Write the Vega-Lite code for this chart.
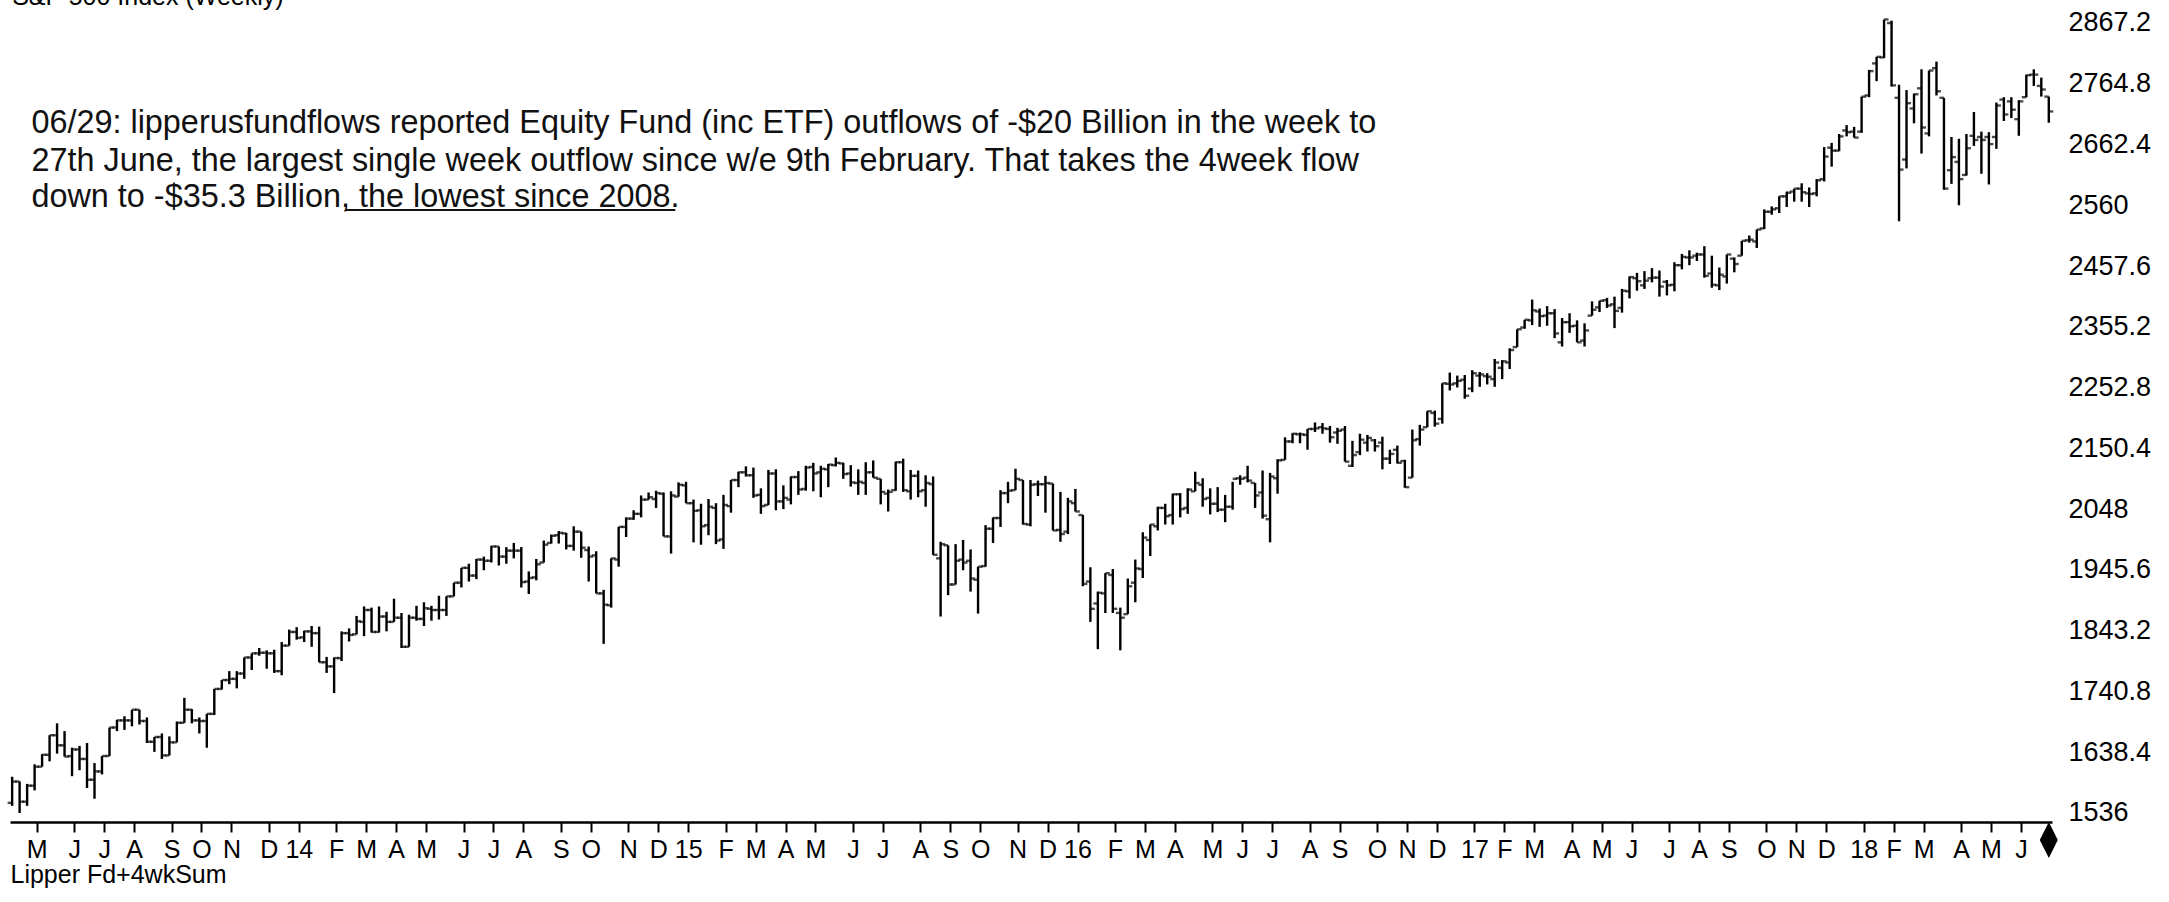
{
"$schema": "https://vega.github.io/schema/vega-lite/v6.json",
"autosize": "none",
"width": 2042,
"height": 822,
"padding": {"left": 10, "top": 0, "right": 117, "bottom": 80},
"background": "white",
"config": {
"view": {"stroke": null},
"axisX": {"labelOverlap": false, "labelFlush": false, "labelBound": false, "ticks": true, "tickSize": 10, "tickWidth": 2, "tickColor": "black", "domainColor": "black", "domainWidth": 2.5, "grid": false},
"axisY": {"labelOverlap": false, "labelFlush": false, "labelBound": false, "grid": false}
},
"datasets": {
"bars": [
{"d":"2013-04-12","o":1553,"h":1597,"l":1548,"c":1589},
{"d":"2013-04-19","o":1589,"h":1589,"l":1536,"c":1555},
{"d":"2013-04-26","o":1555,"h":1585,"l":1548,"c":1582},
{"d":"2013-05-03","o":1582,"h":1618,"l":1574,"c":1614},
{"d":"2013-05-10","o":1614,"h":1635,"l":1614,"c":1634},
{"d":"2013-05-17","o":1634,"h":1667,"l":1623,"c":1667},
{"d":"2013-05-24","o":1667,"h":1687,"l":1636,"c":1650},
{"d":"2013-05-31","o":1650,"h":1674,"l":1631,"c":1631},
{"d":"2013-06-07","o":1632,"h":1646,"l":1598,"c":1643},
{"d":"2013-06-14","o":1643,"h":1649,"l":1608,"c":1627},
{"d":"2013-06-21","o":1627,"h":1654,"l":1578,"c":1592},
{"d":"2013-06-28","o":1592,"h":1620,"l":1560,"c":1606},
{"d":"2013-07-05","o":1606,"h":1632,"l":1601,"c":1632},
{"d":"2013-07-12","o":1632,"h":1680,"l":1632,"c":1680},
{"d":"2013-07-19","o":1680,"h":1693,"l":1674,"c":1692},
{"d":"2013-07-26","o":1692,"h":1699,"l":1676,"c":1692},
{"d":"2013-08-02","o":1692,"h":1710,"l":1682,"c":1710},
{"d":"2013-08-09","o":1710,"h":1710,"l":1685,"c":1691},
{"d":"2013-08-16","o":1691,"h":1697,"l":1654,"c":1656},
{"d":"2013-08-23","o":1656,"h":1664,"l":1639,"c":1664},
{"d":"2013-08-30","o":1664,"h":1670,"l":1627,"c":1633},
{"d":"2013-09-06","o":1633,"h":1665,"l":1633,"c":1655},
{"d":"2013-09-13","o":1655,"h":1690,"l":1655,"c":1688},
{"d":"2013-09-20","o":1688,"h":1730,"l":1688,"c":1710},
{"d":"2013-09-27","o":1710,"h":1711,"l":1687,"c":1692},
{"d":"2013-10-04","o":1692,"h":1697,"l":1670,"c":1691},
{"d":"2013-10-11","o":1691,"h":1703,"l":1646,"c":1703},
{"d":"2013-10-18","o":1703,"h":1745,"l":1701,"c":1745},
{"d":"2013-10-25","o":1745,"h":1760,"l":1744,"c":1760},
{"d":"2013-11-01","o":1760,"h":1775,"l":1753,"c":1762},
{"d":"2013-11-08","o":1762,"h":1775,"l":1746,"c":1771},
{"d":"2013-11-15","o":1771,"h":1798,"l":1762,"c":1798},
{"d":"2013-11-22","o":1798,"h":1805,"l":1777,"c":1805},
{"d":"2013-11-29","o":1805,"h":1814,"l":1801,"c":1806},
{"d":"2013-12-06","o":1806,"h":1810,"l":1779,"c":1805},
{"d":"2013-12-13","o":1805,"h":1811,"l":1772,"c":1775},
{"d":"2013-12-20","o":1775,"h":1824,"l":1768,"c":1818},
{"d":"2013-12-27","o":1818,"h":1845,"l":1818,"c":1841},
{"d":"2014-01-03","o":1841,"h":1849,"l":1828,"c":1831},
{"d":"2014-01-10","o":1832,"h":1843,"l":1824,"c":1842},
{"d":"2014-01-17","o":1842,"h":1851,"l":1816,"c":1839},
{"d":"2014-01-24","o":1839,"h":1850,"l":1790,"c":1790},
{"d":"2014-01-31","o":1790,"h":1799,"l":1772,"c":1783},
{"d":"2014-02-07","o":1783,"h":1798,"l":1738,"c":1797},
{"d":"2014-02-14","o":1797,"h":1842,"l":1792,"c":1839},
{"d":"2014-02-21","o":1839,"h":1847,"l":1825,"c":1836},
{"d":"2014-02-28","o":1837,"h":1868,"l":1837,"c":1859},
{"d":"2014-03-07","o":1858,"h":1884,"l":1834,"c":1878},
{"d":"2014-03-14","o":1878,"h":1882,"l":1840,"c":1841},
{"d":"2014-03-21","o":1841,"h":1884,"l":1840,"c":1867},
{"d":"2014-03-28","o":1867,"h":1875,"l":1842,"c":1858},
{"d":"2014-04-04","o":1858,"h":1897,"l":1858,"c":1865},
{"d":"2014-04-11","o":1865,"h":1873,"l":1814,"c":1816},
{"d":"2014-04-18","o":1816,"h":1870,"l":1816,"c":1865},
{"d":"2014-04-25","o":1865,"h":1885,"l":1860,"c":1863},
{"d":"2014-05-02","o":1863,"h":1891,"l":1851,"c":1881},
{"d":"2014-05-09","o":1880,"h":1885,"l":1860,"c":1878},
{"d":"2014-05-16","o":1878,"h":1902,"l":1862,"c":1878},
{"d":"2014-05-23","o":1878,"h":1901,"l":1868,"c":1901},
{"d":"2014-05-30","o":1901,"h":1924,"l":1901,"c":1924},
{"d":"2014-06-06","o":1924,"h":1949,"l":1916,"c":1949},
{"d":"2014-06-13","o":1949,"h":1956,"l":1926,"c":1936},
{"d":"2014-06-20","o":1936,"h":1964,"l":1930,"c":1963},
{"d":"2014-06-27","o":1963,"h":1968,"l":1945,"c":1961},
{"d":"2014-07-04","o":1961,"h":1986,"l":1958,"c":1985},
{"d":"2014-07-11","o":1985,"h":1985,"l":1953,"c":1968},
{"d":"2014-07-18","o":1968,"h":1984,"l":1956,"c":1978},
{"d":"2014-07-25","o":1978,"h":1991,"l":1965,"c":1978},
{"d":"2014-08-01","o":1978,"h":1984,"l":1916,"c":1925},
{"d":"2014-08-08","o":1926,"h":1943,"l":1905,"c":1932},
{"d":"2014-08-15","o":1933,"h":1964,"l":1928,"c":1955},
{"d":"2014-08-22","o":1958,"h":1995,"l":1958,"c":1988},
{"d":"2014-08-29","o":1991,"h":2005,"l":1990,"c":2003},
{"d":"2014-09-05","o":2004,"h":2011,"l":1990,"c":2008},
{"d":"2014-09-12","o":2007,"h":2008,"l":1980,"c":1986},
{"d":"2014-09-19","o":1986,"h":2019,"l":1978,"c":2010},
{"d":"2014-09-26","o":2010,"h":2010,"l":1966,"c":1983},
{"d":"2014-10-03","o":1979,"h":1985,"l":1926,"c":1968},
{"d":"2014-10-10","o":1970,"h":1977,"l":1906,"c":1906},
{"d":"2014-10-17","o":1906,"h":1912,"l":1821,"c":1887},
{"d":"2014-10-24","o":1886,"h":1965,"l":1882,"c":1965},
{"d":"2014-10-31","o":1963,"h":2018,"l":1951,"c":2018},
{"d":"2014-11-07","o":2018,"h":2034,"l":2001,"c":2032},
{"d":"2014-11-14","o":2032,"h":2046,"l":2030,"c":2040},
{"d":"2014-11-21","o":2040,"h":2071,"l":2034,"c":2064},
{"d":"2014-11-28","o":2064,"h":2076,"l":2064,"c":2068},
{"d":"2014-12-05","o":2065,"h":2079,"l":2050,"c":2075},
{"d":"2014-12-12","o":2074,"h":2076,"l":2002,"c":2002},
{"d":"2014-12-19","o":2002,"h":2078,"l":1973,"c":2071},
{"d":"2014-12-26","o":2069,"h":2093,"l":2069,"c":2089},
{"d":"2015-01-02","o":2088,"h":2094,"l":2058,"c":2058},
{"d":"2015-01-09","o":2058,"h":2064,"l":1992,"c":2045},
{"d":"2015-01-16","o":2046,"h":2057,"l":1988,"c":2019},
{"d":"2015-01-23","o":2021,"h":2065,"l":2004,"c":2052},
{"d":"2015-01-30","o":2050,"h":2058,"l":1989,"c":1995},
{"d":"2015-02-06","o":1997,"h":2072,"l":1981,"c":2055},
{"d":"2015-02-13","o":2053,"h":2097,"l":2042,"c":2097},
{"d":"2015-02-20","o":2097,"h":2111,"l":2085,"c":2110},
{"d":"2015-02-27","o":2110,"h":2120,"l":2103,"c":2105},
{"d":"2015-03-06","o":2105,"h":2118,"l":2067,"c":2071},
{"d":"2015-03-13","o":2072,"h":2083,"l":2040,"c":2053},
{"d":"2015-03-20","o":2055,"h":2114,"l":2055,"c":2108},
{"d":"2015-03-27","o":2108,"h":2115,"l":2046,"c":2061},
{"d":"2015-04-03","o":2061,"h":2088,"l":2048,"c":2067},
{"d":"2015-04-10","o":2064,"h":2103,"l":2056,"c":2102},
{"d":"2015-04-17","o":2102,"h":2112,"l":2072,"c":2081},
{"d":"2015-04-24","o":2082,"h":2121,"l":2079,"c":2118},
{"d":"2015-05-01","o":2119,"h":2126,"l":2078,"c":2108},
{"d":"2015-05-08","o":2110,"h":2121,"l":2068,"c":2116},
{"d":"2015-05-15","o":2115,"h":2124,"l":2085,"c":2123},
{"d":"2015-05-22","o":2122,"h":2135,"l":2120,"c":2126},
{"d":"2015-05-29","o":2125,"h":2126,"l":2099,"c":2107},
{"d":"2015-06-05","o":2108,"h":2122,"l":2086,"c":2093},
{"d":"2015-06-12","o":2092,"h":2115,"l":2072,"c":2094},
{"d":"2015-06-19","o":2092,"h":2127,"l":2072,"c":2110},
{"d":"2015-06-26","o":2110,"h":2130,"l":2101,"c":2101},
{"d":"2015-07-03","o":2099,"h":2099,"l":2056,"c":2077},
{"d":"2015-07-10","o":2074,"h":2081,"l":2044,"c":2077},
{"d":"2015-07-17","o":2080,"h":2128,"l":2079,"c":2127},
{"d":"2015-07-24","o":2127,"h":2133,"l":2077,"c":2080},
{"d":"2015-07-31","o":2078,"h":2114,"l":2064,"c":2104},
{"d":"2015-08-07","o":2104,"h":2113,"l":2068,"c":2078},
{"d":"2015-08-14","o":2080,"h":2105,"l":2052,"c":2092},
{"d":"2015-08-21","o":2090,"h":2103,"l":1971,"c":1971},
{"d":"2015-08-28","o":1965,"h":1993,"l":1867,"c":1989},
{"d":"2015-09-04","o":1987,"h":1987,"l":1903,"c":1921},
{"d":"2015-09-11","o":1921,"h":1989,"l":1921,"c":1961},
{"d":"2015-09-18","o":1963,"h":1996,"l":1945,"c":1958},
{"d":"2015-09-25","o":1961,"h":1980,"l":1909,"c":1931},
{"d":"2015-10-02","o":1929,"h":1951,"l":1872,"c":1951},
{"d":"2015-10-09","o":1952,"h":2021,"l":1951,"c":2015},
{"d":"2015-10-16","o":2015,"h":2034,"l":1991,"c":2033},
{"d":"2015-10-23","o":2033,"h":2080,"l":2018,"c":2075},
{"d":"2015-10-30","o":2075,"h":2094,"l":2058,"c":2079},
{"d":"2015-11-06","o":2080,"h":2116,"l":2080,"c":2099},
{"d":"2015-11-13","o":2097,"h":2097,"l":2022,"c":2023},
{"d":"2015-11-20","o":2022,"h":2097,"l":2019,"c":2089},
{"d":"2015-11-27","o":2090,"h":2096,"l":2070,"c":2090},
{"d":"2015-12-04","o":2090,"h":2104,"l":2042,"c":2092},
{"d":"2015-12-11","o":2091,"h":2091,"l":2012,"c":2012},
{"d":"2015-12-18","o":2013,"h":2077,"l":1993,"c":2006},
{"d":"2015-12-25","o":2010,"h":2067,"l":2006,"c":2061},
{"d":"2016-01-01","o":2058,"h":2082,"l":2044,"c":2044},
{"d":"2016-01-08","o":2038,"h":2038,"l":1918,"c":1922},
{"d":"2016-01-15","o":1926,"h":1950,"l":1858,"c":1880},
{"d":"2016-01-22","o":1889,"h":1909,"l":1812,"c":1907},
{"d":"2016-01-29","o":1906,"h":1940,"l":1873,"c":1940},
{"d":"2016-02-05","o":1937,"h":1947,"l":1873,"c":1880},
{"d":"2016-02-12","o":1873,"h":1882,"l":1810,"c":1865},
{"d":"2016-02-19","o":1871,"h":1931,"l":1871,"c":1918},
{"d":"2016-02-26","o":1924,"h":1963,"l":1891,"c":1948},
{"d":"2016-03-04","o":1947,"h":2009,"l":1932,"c":2000},
{"d":"2016-03-11","o":1996,"h":2022,"l":1969,"c":2022},
{"d":"2016-03-18","o":2019,"h":2052,"l":2012,"c":2050},
{"d":"2016-03-25","o":2050,"h":2057,"l":2022,"c":2036},
{"d":"2016-04-01","o":2038,"h":2074,"l":2022,"c":2073},
{"d":"2016-04-08","o":2073,"h":2075,"l":2034,"c":2048},
{"d":"2016-04-15","o":2050,"h":2083,"l":2040,"c":2081},
{"d":"2016-04-22","o":2078,"h":2111,"l":2078,"c":2092},
{"d":"2016-04-29","o":2089,"h":2100,"l":2052,"c":2065},
{"d":"2016-05-06","o":2067,"h":2083,"l":2039,"c":2057},
{"d":"2016-05-13","o":2057,"h":2085,"l":2043,"c":2047},
{"d":"2016-05-20","o":2047,"h":2072,"l":2026,"c":2052},
{"d":"2016-05-27","o":2052,"h":2094,"l":2047,"c":2099},
{"d":"2016-06-03","o":2100,"h":2105,"l":2089,"c":2099},
{"d":"2016-06-10","o":2101,"h":2121,"l":2093,"c":2096},
{"d":"2016-06-17","o":2092,"h":2092,"l":2050,"c":2071},
{"d":"2016-06-24","o":2076,"h":2113,"l":2032,"c":2037},
{"d":"2016-07-01","o":2031,"h":2109,"l":1992,"c":2103},
{"d":"2016-07-08","o":2100,"h":2132,"l":2074,"c":2130},
{"d":"2016-07-15","o":2131,"h":2169,"l":2131,"c":2162},
{"d":"2016-07-22","o":2162,"h":2176,"l":2159,"c":2175},
{"d":"2016-07-29","o":2174,"h":2177,"l":2159,"c":2174},
{"d":"2016-08-05","o":2173,"h":2183,"l":2148,"c":2183},
{"d":"2016-08-12","o":2183,"h":2194,"l":2178,"c":2184},
{"d":"2016-08-19","o":2186,"h":2193,"l":2175,"c":2184},
{"d":"2016-08-26","o":2183,"h":2188,"l":2160,"c":2169},
{"d":"2016-09-02","o":2177,"h":2185,"l":2158,"c":2180},
{"d":"2016-09-09","o":2182,"h":2188,"l":2128,"c":2128},
{"d":"2016-09-16","o":2121,"h":2163,"l":2119,"c":2139},
{"d":"2016-09-23","o":2144,"h":2175,"l":2139,"c":2165},
{"d":"2016-09-30","o":2160,"h":2173,"l":2145,"c":2168},
{"d":"2016-10-07","o":2164,"h":2166,"l":2145,"c":2154},
{"d":"2016-10-14","o":2160,"h":2170,"l":2115,"c":2133},
{"d":"2016-10-21","o":2133,"h":2148,"l":2124,"c":2141},
{"d":"2016-10-28","o":2148,"h":2155,"l":2125,"c":2126},
{"d":"2016-11-04","o":2129,"h":2131,"l":2084,"c":2085},
{"d":"2016-11-11","o":2101,"h":2182,"l":2101,"c":2164},
{"d":"2016-11-18","o":2166,"h":2190,"l":2155,"c":2182},
{"d":"2016-11-25","o":2186,"h":2213,"l":2186,"c":2213},
{"d":"2016-12-02","o":2210,"h":2214,"l":2187,"c":2192},
{"d":"2016-12-09","o":2200,"h":2260,"l":2192,"c":2260},
{"d":"2016-12-16","o":2259,"h":2278,"l":2248,"c":2258},
{"d":"2016-12-23","o":2260,"h":2273,"l":2253,"c":2264},
{"d":"2016-12-30","o":2266,"h":2274,"l":2234,"c":2239},
{"d":"2017-01-06","o":2251,"h":2282,"l":2245,"c":2277},
{"d":"2017-01-13","o":2273,"h":2279,"l":2254,"c":2275},
{"d":"2017-01-20","o":2272,"h":2277,"l":2258,"c":2271},
{"d":"2017-01-27","o":2267,"h":2301,"l":2254,"c":2295},
{"d":"2017-02-03","o":2286,"h":2299,"l":2267,"c":2297},
{"d":"2017-02-10","o":2295,"h":2319,"l":2284,"c":2316},
{"d":"2017-02-17","o":2321,"h":2351,"l":2321,"c":2351},
{"d":"2017-02-24","o":2354,"h":2367,"l":2352,"c":2367},
{"d":"2017-03-03","o":2366,"h":2401,"l":2358,"c":2383},
{"d":"2017-03-10","o":2381,"h":2386,"l":2355,"c":2373},
{"d":"2017-03-17","o":2374,"h":2390,"l":2357,"c":2378},
{"d":"2017-03-24","o":2378,"h":2385,"l":2336,"c":2344},
{"d":"2017-03-31","o":2329,"h":2370,"l":2322,"c":2363},
{"d":"2017-04-07","o":2363,"h":2378,"l":2345,"c":2356},
{"d":"2017-04-14","o":2357,"h":2366,"l":2329,"c":2329},
{"d":"2017-04-21","o":2332,"h":2361,"l":2322,"c":2349},
{"d":"2017-04-28","o":2374,"h":2398,"l":2374,"c":2384},
{"d":"2017-05-05","o":2388,"h":2399,"l":2380,"c":2399},
{"d":"2017-05-12","o":2400,"h":2404,"l":2387,"c":2391},
{"d":"2017-05-19","o":2393,"h":2406,"l":2353,"c":2382},
{"d":"2017-05-26","o":2387,"h":2419,"l":2379,"c":2416},
{"d":"2017-06-02","o":2415,"h":2440,"l":2403,"c":2439},
{"d":"2017-06-09","o":2437,"h":2446,"l":2416,"c":2432},
{"d":"2017-06-16","o":2425,"h":2449,"l":2419,"c":2433},
{"d":"2017-06-23","o":2437,"h":2454,"l":2430,"c":2438},
{"d":"2017-06-30","o":2438,"h":2450,"l":2406,"c":2423},
{"d":"2017-07-07","o":2431,"h":2434,"l":2408,"c":2425},
{"d":"2017-07-14","o":2426,"h":2464,"l":2415,"c":2459},
{"d":"2017-07-21","o":2459,"h":2478,"l":2452,"c":2473},
{"d":"2017-07-28","o":2472,"h":2484,"l":2459,"c":2472},
{"d":"2017-08-04","o":2475,"h":2480,"l":2466,"c":2477},
{"d":"2017-08-11","o":2477,"h":2491,"l":2438,"c":2441},
{"d":"2017-08-18","o":2445,"h":2475,"l":2421,"c":2426},
{"d":"2017-08-25","o":2425,"h":2455,"l":2417,"c":2443},
{"d":"2017-09-01","o":2440,"h":2477,"l":2428,"c":2477},
{"d":"2017-09-08","o":2470,"h":2472,"l":2447,"c":2461},
{"d":"2017-09-15","o":2475,"h":2500,"l":2475,"c":2500},
{"d":"2017-09-22","o":2501,"h":2509,"l":2497,"c":2502},
{"d":"2017-09-29","o":2499,"h":2519,"l":2488,"c":2519},
{"d":"2017-10-06","o":2521,"h":2553,"l":2520,"c":2549},
{"d":"2017-10-13","o":2549,"h":2558,"l":2544,"c":2553},
{"d":"2017-10-20","o":2555,"h":2575,"l":2547,"c":2575},
{"d":"2017-10-27","o":2575,"h":2583,"l":2557,"c":2581},
{"d":"2017-11-03","o":2583,"h":2588,"l":2566,"c":2588},
{"d":"2017-11-10","o":2588,"h":2597,"l":2566,"c":2582},
{"d":"2017-11-17","o":2580,"h":2590,"l":2557,"c":2579},
{"d":"2017-11-24","o":2580,"h":2604,"l":2575,"c":2602},
{"d":"2017-12-01","o":2604,"h":2658,"l":2600,"c":2642},
{"d":"2017-12-08","o":2657,"h":2665,"l":2625,"c":2652},
{"d":"2017-12-15","o":2652,"h":2680,"l":2651,"c":2676},
{"d":"2017-12-22","o":2686,"h":2695,"l":2676,"c":2683},
{"d":"2017-12-29","o":2684,"h":2692,"l":2674,"c":2674},
{"d":"2018-01-05","o":2684,"h":2743,"l":2682,"c":2743},
{"d":"2018-01-12","o":2745,"h":2788,"l":2742,"c":2786},
{"d":"2018-01-19","o":2799,"h":2810,"l":2769,"c":2810},
{"d":"2018-01-26","o":2809,"h":2873,"l":2808,"c":2873},
{"d":"2018-02-02","o":2867,"h":2871,"l":2760,"c":2762},
{"d":"2018-02-09","o":2741,"h":2763,"l":2533,"c":2620},
{"d":"2018-02-16","o":2637,"h":2754,"l":2622,"c":2732},
{"d":"2018-02-23","o":2723,"h":2748,"l":2698,"c":2747},
{"d":"2018-03-02","o":2757,"h":2789,"l":2647,"c":2691},
{"d":"2018-03-09","o":2681,"h":2787,"l":2676,"c":2787},
{"d":"2018-03-16","o":2791,"h":2802,"l":2745,"c":2752},
{"d":"2018-03-23","o":2741,"h":2741,"l":2586,"c":2588},
{"d":"2018-03-30","o":2619,"h":2675,"l":2596,"c":2641},
{"d":"2018-04-06","o":2633,"h":2672,"l":2560,"c":2604},
{"d":"2018-04-13","o":2611,"h":2680,"l":2610,"c":2656},
{"d":"2018-04-20","o":2677,"h":2717,"l":2660,"c":2670},
{"d":"2018-04-27","o":2675,"h":2684,"l":2613,"c":2670},
{"d":"2018-05-04","o":2675,"h":2683,"l":2595,"c":2663},
{"d":"2018-05-11","o":2675,"h":2733,"l":2655,"c":2728},
{"d":"2018-05-18","o":2738,"h":2742,"l":2702,"c":2713},
{"d":"2018-05-25","o":2735,"h":2742,"l":2707,"c":2721},
{"d":"2018-06-01","o":2705,"h":2737,"l":2677,"c":2735},
{"d":"2018-06-08","o":2742,"h":2780,"l":2742,"c":2779},
{"d":"2018-06-15","o":2780,"h":2789,"l":2761,"c":2780},
{"d":"2018-06-22","o":2761,"h":2775,"l":2743,"c":2755},
{"d":"2018-06-29","o":2743,"h":2743,"l":2699,"c":2718}
],
"notes": [
{"d":"2013-04-30","p":2681.7,"t":"06/29: lipperusfundflows reported Equity Fund (inc ETF) outflows of -$20 Billion in the week to"},
{"d":"2013-04-30","p":2617.7,"t":"27th June, the largest single week outflow since w/e 9th February. That takes the 4week flow"},
{"d":"2013-04-30","p":2557.1,"t":"down to -$35.3 Billion, the lowest since 2008."}
],
"heading": [
{"d":"2013-04-12","p":2898.2,"t":"S&P 500 Index (Weekly)"}
],
"underline": [
{"d":"2014-02-18","d2":"2014-12-23","p":2552}
],
"marker": [
{"d":"2018-06-29","p":1490.5}
]
},
"encoding": {
"x": {"field": "d", "type": "temporal",
  "scale": {"type": "utc", "domain": [{"year": 2013, "month": 4, "date": 10, "utc": true}, {"year": 2018, "month": 7, "date": 2, "utc": true}]},
  "axis": {
    "orient": "bottom", "title": "Lipper Fd+4wkSum", "titleAnchor": "start", "titleAlign": "left", "titleBaseline": "top",
    "titleFont": "Liberation Sans", "titleFontSize": 25, "titleFontWeight": "normal", "titleColor": "black", "titlePadding": 0,
    "grid": false, "domainColor": "black", "domainWidth": 2.5, "ticks": true, "tickColor": "black", "tickWidth": 2, "tickSize": 10,
    "labelFont": "Liberation Sans", "labelFontSize": 25, "labelColor": "black", "labelPadding": 5, "labelBaseline": "top",
    "labelAlign": "center", "labelOverlap": false, "labelFlush": false, "labelBound": false,
    "labelExpr": "utcmonth(datum.value) === 0 ? utcFormat(datum.value, '%y') : substring(utcFormat(datum.value, '%b'), 0, 1)",
    "values": [
      {"year":2013,"month":5,"date":5,"utc":true},{"year":2013,"month":6,"date":9,"utc":true},{"year":2013,"month":7,"date":7,"utc":true},{"year":2013,"month":8,"date":4,"utc":true},{"year":2013,"month":9,"date":8,"utc":true},{"year":2013,"month":10,"date":6,"utc":true},{"year":2013,"month":11,"date":3,"utc":true},{"year":2013,"month":12,"date":8,"utc":true},
      {"year":2014,"month":1,"date":5,"utc":true},{"year":2014,"month":2,"date":9,"utc":true},{"year":2014,"month":3,"date":9,"utc":true},{"year":2014,"month":4,"date":6,"utc":true},{"year":2014,"month":5,"date":4,"utc":true},{"year":2014,"month":6,"date":8,"utc":true},{"year":2014,"month":7,"date":6,"utc":true},{"year":2014,"month":8,"date":3,"utc":true},{"year":2014,"month":9,"date":7,"utc":true},{"year":2014,"month":10,"date":5,"utc":true},{"year":2014,"month":11,"date":9,"utc":true},{"year":2014,"month":12,"date":7,"utc":true},
      {"year":2015,"month":1,"date":4,"utc":true},{"year":2015,"month":2,"date":8,"utc":true},{"year":2015,"month":3,"date":8,"utc":true},{"year":2015,"month":4,"date":5,"utc":true},{"year":2015,"month":5,"date":3,"utc":true},{"year":2015,"month":6,"date":7,"utc":true},{"year":2015,"month":7,"date":5,"utc":true},{"year":2015,"month":8,"date":9,"utc":true},{"year":2015,"month":9,"date":6,"utc":true},{"year":2015,"month":10,"date":4,"utc":true},{"year":2015,"month":11,"date":8,"utc":true},{"year":2015,"month":12,"date":6,"utc":true},
      {"year":2016,"month":1,"date":3,"utc":true},{"year":2016,"month":2,"date":7,"utc":true},{"year":2016,"month":3,"date":6,"utc":true},{"year":2016,"month":4,"date":3,"utc":true},{"year":2016,"month":5,"date":8,"utc":true},{"year":2016,"month":6,"date":5,"utc":true},{"year":2016,"month":7,"date":3,"utc":true},{"year":2016,"month":8,"date":7,"utc":true},{"year":2016,"month":9,"date":4,"utc":true},{"year":2016,"month":10,"date":9,"utc":true},{"year":2016,"month":11,"date":6,"utc":true},{"year":2016,"month":12,"date":4,"utc":true},
      {"year":2017,"month":1,"date":8,"utc":true},{"year":2017,"month":2,"date":5,"utc":true},{"year":2017,"month":3,"date":5,"utc":true},{"year":2017,"month":4,"date":9,"utc":true},{"year":2017,"month":5,"date":7,"utc":true},{"year":2017,"month":6,"date":4,"utc":true},{"year":2017,"month":7,"date":9,"utc":true},{"year":2017,"month":8,"date":6,"utc":true},{"year":2017,"month":9,"date":3,"utc":true},{"year":2017,"month":10,"date":8,"utc":true},{"year":2017,"month":11,"date":5,"utc":true},{"year":2017,"month":12,"date":3,"utc":true},
      {"year":2018,"month":1,"date":7,"utc":true},{"year":2018,"month":2,"date":4,"utc":true},{"year":2018,"month":3,"date":4,"utc":true},{"year":2018,"month":4,"date":8,"utc":true},{"year":2018,"month":5,"date":6,"utc":true},{"year":2018,"month":6,"date":3,"utc":true}
    ]
  }
}
},
"layer": [
{
"data": {"name": "bars"},
"mark": {"type": "rule", "color": "black", "strokeWidth": 2.4},
"encoding": {
"y": {"field": "l", "type": "quantitative",
  "scale": {"domain": [1520.8, 2905.8], "nice": false, "zero": false},
  "axis": {
    "orient": "right", "title": null, "grid": false, "domain": false, "ticks": false,
    "labelFont": "Liberation Sans", "labelFontSize": 27, "labelColor": "black", "labelPadding": 16, "labelAlign": "left", "labelBaseline": "middle",
    "labelOverlap": false, "labelFlush": false, "labelBound": false, "format": ".1~f",
    "values": [1536, 1638.4, 1740.8, 1843.2, 1945.6, 2048, 2150.4, 2252.8, 2355.2, 2457.6, 2560, 2662.4, 2764.8, 2867.2]
  }
},
"y2": {"field": "h"}
}
},
{
"data": {"name": "bars"},
"mark": {"type": "tick", "orient": "horizontal", "color": "black", "size": 4.5, "thickness": 2.4, "xOffset": -2.25},
"encoding": {
"y": {"field": "o", "type": "quantitative"}
}
},
{
"data": {"name": "bars"},
"mark": {"type": "tick", "orient": "horizontal", "color": "black", "size": 4.5, "thickness": 2.4, "xOffset": 2.25},
"encoding": {
"y": {"field": "c", "type": "quantitative"}
}
},
{
"data": {"name": "notes"},
"mark": {"type": "text", "align": "left", "baseline": "alphabetic", "font": "Liberation Sans", "fontSize": 32.4, "color": "#111111"},
"encoding": {
"y": {"field": "p", "type": "quantitative"},
"text": {"field": "t"}
}
},
{
"data": {"name": "heading"},
"mark": {"type": "text", "align": "left", "baseline": "alphabetic", "font": "Liberation Sans", "fontSize": 25, "color": "black"},
"encoding": {
"y": {"field": "p", "type": "quantitative"},
"text": {"field": "t"}
}
},
{
"data": {"name": "underline"},
"mark": {"type": "rule", "color": "#111111", "strokeWidth": 2},
"encoding": {
"x2": {"field": "d2"},
"y": {"field": "p", "type": "quantitative"}
}
},
{
"data": {"name": "marker"},
"mark": {"type": "point", "shape": "M0,-1L0.5,0L0,1L-0.5,0Z", "size": 1300, "filled": true, "color": "black", "opacity": 1},
"encoding": {
"y": {"field": "p", "type": "quantitative"}
}
}
]
}
